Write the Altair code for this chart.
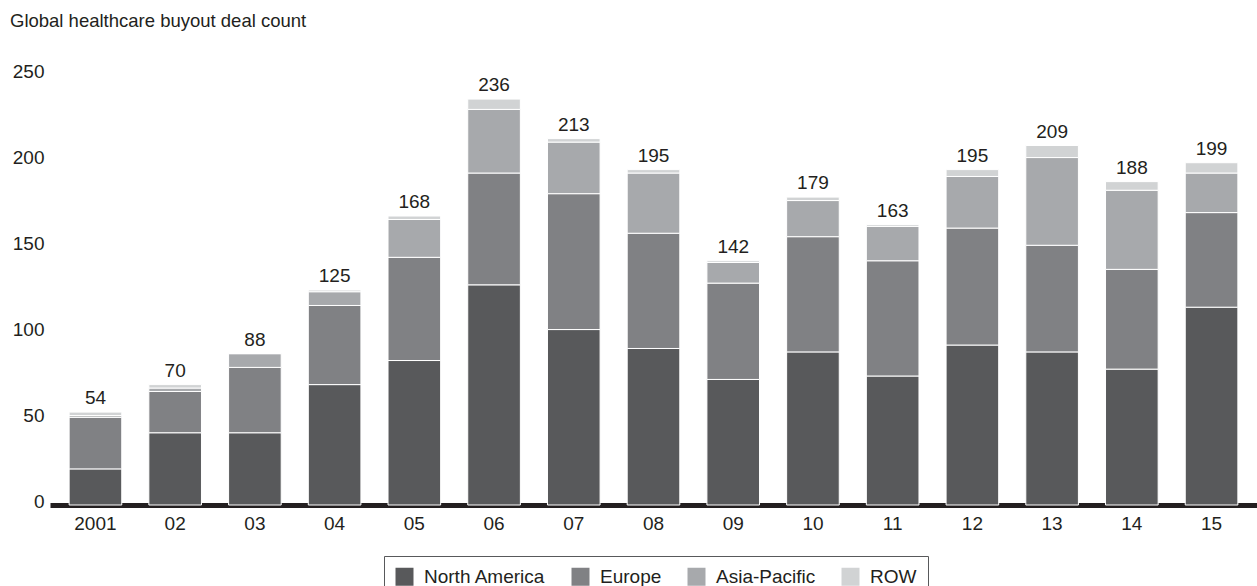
import altair as alt
import pandas as pd

# Deal counts by region and year
years = ["2001", "02", "03", "04", "05", "06", "07", "08", "09", "10", "11", "12", "13", "14", "15"]
regions = ["North America", "Europe", "Asia-Pacific", "ROW"]
north_america = [21, 42, 42, 70, 84, 128, 102, 91, 73, 89, 75, 93, 89, 79, 115]
europe = [30, 24, 38, 46, 60, 65, 79, 67, 56, 67, 67, 68, 62, 58, 55]
asia_pacific = [1, 2, 8, 8, 22, 37, 30, 35, 12, 21, 20, 30, 51, 46, 23]
row = [2, 2, 0, 1, 2, 6, 2, 2, 1, 2, 1, 4, 7, 5, 6]
colors = ["#58595b", "#808184", "#a7a9ac", "#d1d3d4"]

series = [north_america, europe, asia_pacific, row]
records = []
for r_idx, (name, vals) in enumerate(zip(regions, series)):
    for y, v in zip(years, vals):
        records.append({"year": y, "region": name, "order": r_idx, "deals": v})
df = pd.DataFrame(records)

TEXT = "#231f20"
FONT = "Liberation Sans"

x_enc = alt.X(
    "year:N",
    sort=years,
    title=None,
    scale=alt.Scale(paddingInner=0.34, paddingOuter=0.24),
    axis=alt.Axis(
        labelAngle=0,
        labelFontSize=19,
        labelColor=TEXT,
        labelFont=FONT,
        labelPadding=9,
        ticks=False,
        domainColor="#231f20",
        domainWidth=5,
        grid=False,
    ),
)

bars = alt.Chart(df).mark_bar(stroke="white", strokeWidth=1).encode(
    x=x_enc,
    y=alt.Y(
        "deals:Q",
        stack="zero",
        title=None,
        scale=alt.Scale(domain=[0, 250], nice=False),
        axis=alt.Axis(
            values=[0, 50, 100, 150, 200, 250],
            labelFontSize=19,
            labelColor=TEXT,
            labelFont=FONT,
            labelPadding=6,
            labelOffset=-4,
            ticks=False,
            domain=False,
            grid=False,
        ),
    ),
    color=alt.Color(
        "region:N",
        sort=regions,
        scale=alt.Scale(domain=regions, range=colors),
        legend=alt.Legend(
            title=None,
            orient="none",
            legendX=334,
            legendY=481,
            direction="horizontal",
            symbolType="square",
            symbolSize=324,
            symbolStrokeWidth=0,
            labelFontSize=19,
            labelFont=FONT,
            labelColor=TEXT,
            labelOffset=10,
            columnPadding=25,
            padding=11,
            strokeColor="#58595b",
            fillColor="white",
        ),
    ),
    order=alt.Order("order:Q", sort="ascending"),
)

totals = alt.Chart(df).transform_aggregate(
    total="sum(deals)", groupby=["year"]
).mark_text(
    baseline="alphabetic", dy=-8, fontSize=19, font=FONT, color=TEXT
).encode(
    x=alt.X("year:N", sort=years),
    y=alt.Y("total:Q"),
    text=alt.Text("total:Q"),
)

chart = alt.layer(bars, totals).properties(
    width=1207,
    height=430,
    padding={"left": 50, "top": 75, "right": 0, "bottom": 81},
    autosize=alt.AutoSizeParams(type="none"),
    title=alt.TitleParams(
        text="Global healthcare buyout deal count",
        anchor="start",
        frame="group",
        dx=-40,
        offset=32,
        fontSize=18.5,
        fontWeight="normal",
        font=FONT,
        color=TEXT,
    ),
).configure_view(stroke=None)

chart.save("out.html", embed_options={"renderer": "svg", "actions": False})
